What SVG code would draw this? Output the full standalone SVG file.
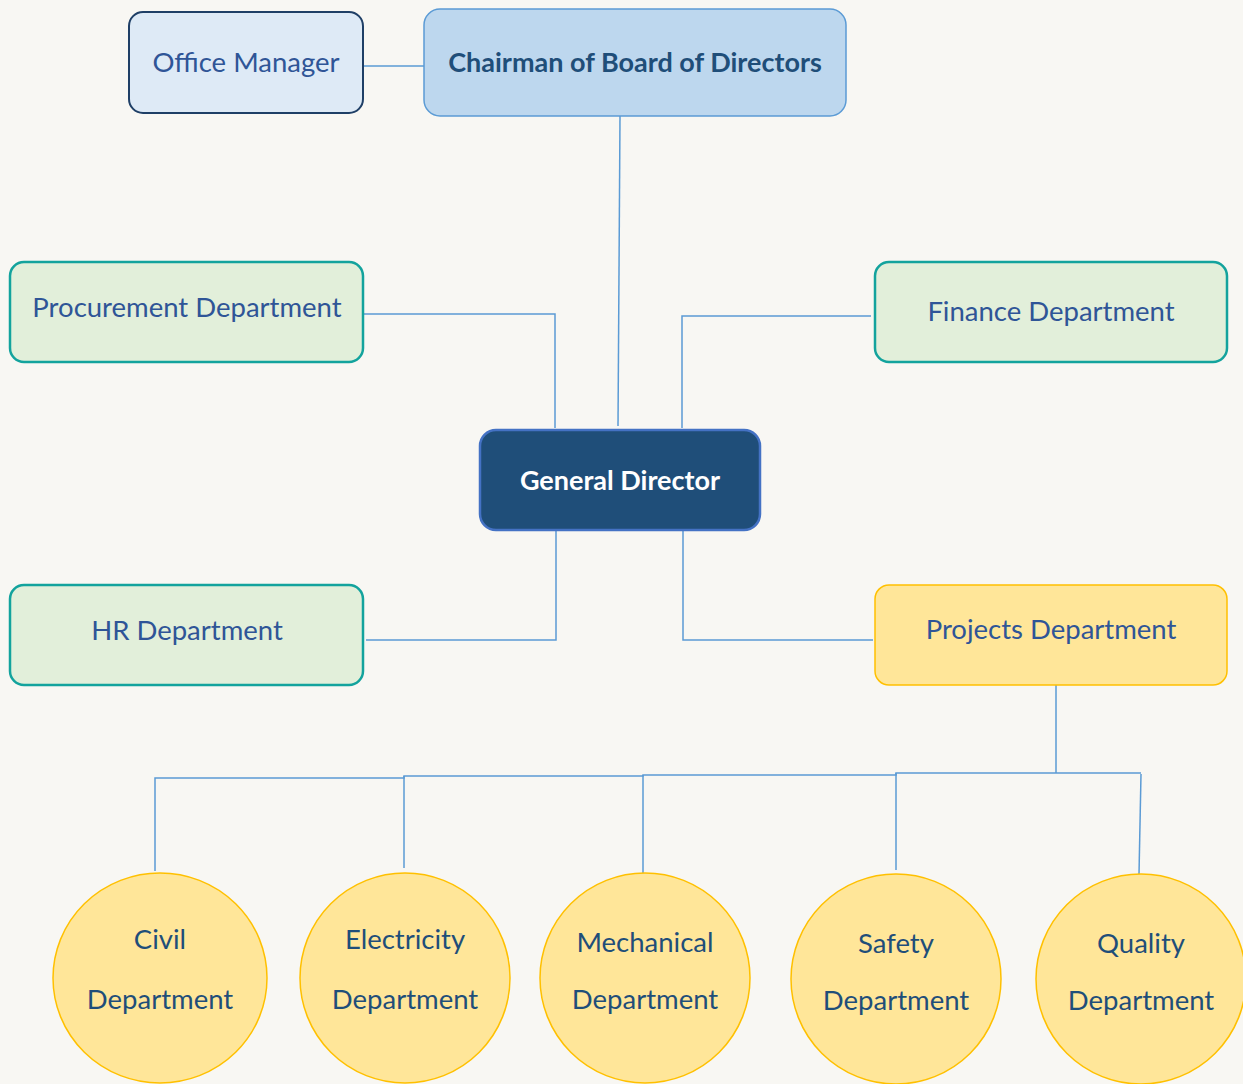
<svg xmlns="http://www.w3.org/2000/svg" width="1243" height="1084" viewBox="0 0 1243 1084">
<style>
text{font-family:Lato,"Open Sans","Liberation Sans",sans-serif;text-anchor:middle;dominant-baseline:central;font-size:27.5px}
.lbl{fill:#2f5597}
.dark{fill:#1f4e79}
.green{fill:#e2efda;stroke:#13a39d;stroke-width:2.5}
.circ{fill:#ffe699;stroke:#ffc000;stroke-width:1.5}
.con path{fill:none;stroke:#5b9bd5;stroke-width:1.5}
</style>
<rect width="1243" height="1084" fill="#f8f7f3"/>
<g class="con">
<path d="M363 66H424"/>
<path d="M620 116L618 426"/>
<path d="M363 314H555V428"/>
<path d="M871 316H682V428"/>
<path d="M366 640H556V530"/>
<path d="M683 530V640H873"/>
<path d="M1056 685V773"/>
<path d="M155 871V778H404V776H643V775H896V773H1141"/>
<path d="M404 776V868"/>
<path d="M643 775V873"/>
<path d="M896 773V870"/>
<path d="M1141 774L1139 874"/>
</g>
<g id="office-manager">
<rect x="129" y="12" width="234" height="101" rx="14" fill="#deeaf6" stroke="#1f3f66" stroke-width="2"/>
<text class="lbl" x="246" y="61">Office Manager</text>
</g>
<g id="chairman">
<rect x="424" y="9" width="422" height="107" rx="16" fill="#bdd7ee" stroke="#5b9bd5" stroke-width="1.5"/>
<text class="dark" x="635" y="61" font-weight="bold" style="font-size:27px">Chairman of Board of Directors</text>
</g>
<g id="procurement">
<rect class="green" x="10" y="262" width="353" height="100" rx="14"/>
<text class="lbl" x="187" y="306">Procurement Department</text>
</g>
<g id="finance">
<rect class="green" x="875" y="262" width="352" height="100" rx="14"/>
<text class="lbl" x="1051" y="310">Finance Department</text>
</g>
<g id="general-director">
<rect x="480" y="430" width="280" height="100" rx="16" fill="#1f4e79" stroke="#4472c4" stroke-width="2.5"/>
<text x="620" y="479" fill="#ffffff" font-weight="bold" style="font-size:27px">General Director</text>
</g>
<g id="hr">
<rect class="green" x="10" y="585" width="353" height="100" rx="14"/>
<text class="lbl" x="187" y="629">HR Department</text>
</g>
<g id="projects">
<rect x="875" y="585" width="352" height="100" rx="14" fill="#ffe699" stroke="#ffc000" stroke-width="1.5"/>
<text class="lbl" x="1051" y="628">Projects Department</text>
</g>
<g id="civil">
<ellipse class="circ" cx="160" cy="978" rx="107" ry="105"/>
<text class="dark" x="160" y="938">Civil</text>
<text class="dark" x="160" y="998">Department</text>
</g>
<g id="electricity">
<ellipse class="circ" cx="405" cy="978" rx="105" ry="105"/>
<text class="dark" x="405" y="938">Electricity</text>
<text class="dark" x="405" y="998">Department</text>
</g>
<g id="mechanical">
<ellipse class="circ" cx="645" cy="978" rx="105" ry="105"/>
<text class="dark" x="645" y="941">Mechanical</text>
<text class="dark" x="645" y="998">Department</text>
</g>
<g id="safety">
<ellipse class="circ" cx="896" cy="979" rx="105" ry="105"/>
<text class="dark" x="896" y="942">Safety</text>
<text class="dark" x="896" y="999">Department</text>
</g>
<g id="quality">
<ellipse class="circ" cx="1141" cy="979" rx="105" ry="105"/>
<text class="dark" x="1141" y="942">Quality</text>
<text class="dark" x="1141" y="999">Department</text>
</g>
</svg>
